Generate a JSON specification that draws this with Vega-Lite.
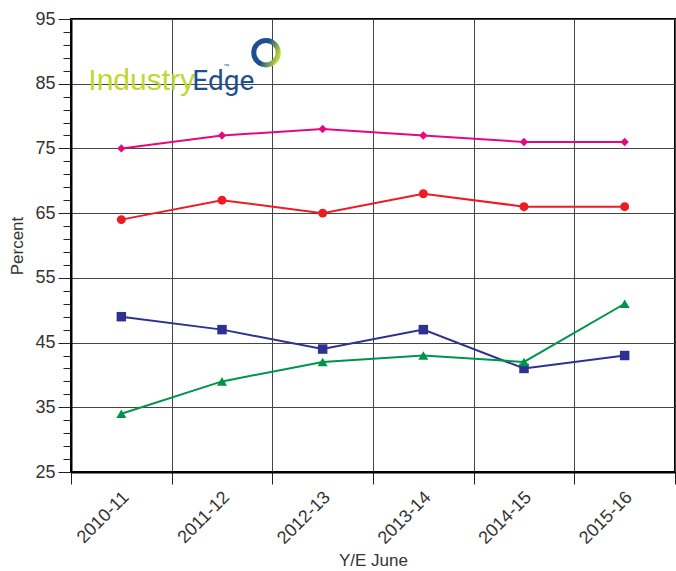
{
  "$schema": "https://vega.github.io/schema/vega-lite/v6.json",
  "width": 604,
  "height": 453,
  "autosize": {"type": "none"},
  "padding": {"left": 71, "top": 19, "right": 1, "bottom": 99},
  "background": "white",
  "config": {
    "view": {"stroke": "black", "strokeWidth": 2},
    "font": "Liberation Sans",
    "axis": {
      "labelFont": "Liberation Sans",
      "titleFont": "Liberation Sans",
      "labelColor": "#333",
      "titleColor": "#333",
      "titleFontWeight": "normal",
      "labelFontSize": 18,
      "titleFontSize": 17,
      "domainColor": "black",
      "domainWidth": 2,
      "tickColor": "#222",
      "gridColor": "#444",
      "gridWidth": 1
    }
  },
  "datasets": {
    "series": [
      {"year": "2010-11", "series": "A", "value": 75},
      {"year": "2011-12", "series": "A", "value": 77},
      {"year": "2012-13", "series": "A", "value": 78},
      {"year": "2013-14", "series": "A", "value": 77},
      {"year": "2014-15", "series": "A", "value": 76},
      {"year": "2015-16", "series": "A", "value": 76},
      {"year": "2010-11", "series": "B", "value": 64},
      {"year": "2011-12", "series": "B", "value": 67},
      {"year": "2012-13", "series": "B", "value": 65},
      {"year": "2013-14", "series": "B", "value": 68},
      {"year": "2014-15", "series": "B", "value": 66},
      {"year": "2015-16", "series": "B", "value": 66},
      {"year": "2010-11", "series": "C", "value": 49},
      {"year": "2011-12", "series": "C", "value": 47},
      {"year": "2012-13", "series": "C", "value": 44},
      {"year": "2013-14", "series": "C", "value": 47},
      {"year": "2014-15", "series": "C", "value": 41},
      {"year": "2015-16", "series": "C", "value": 43},
      {"year": "2010-11", "series": "D", "value": 34},
      {"year": "2011-12", "series": "D", "value": 39},
      {"year": "2012-13", "series": "D", "value": 42},
      {"year": "2013-14", "series": "D", "value": 43},
      {"year": "2014-15", "series": "D", "value": 42},
      {"year": "2015-16", "series": "D", "value": 51}
    ],
    "logo": [
      {"year": "2010-11", "value": 84, "word": "Industry", "part": "a"},
      {"year": "2010-11", "value": 84, "word": "Edge", "part": "b"},
      {"year": "2010-11", "value": 84, "word": "™", "part": "c"}
    ],
    "ring": [
      {"year": "2011-12", "value": 89.8}
    ]
  },
  "encoding": {
    "x": {
      "field": "year",
      "type": "ordinal",
      "scale": {"type": "band", "paddingInner": 0, "paddingOuter": 0},
      "axis": {
        "title": "Y/E June",
        "titlePadding": 5,
        "labelAngle": -45,
        "tickBand": "extent",
        "grid": true,
        "tickSize": 12,
        "labelPadding": 4,
        "labelOffset": -2
      }
    },
    "y": {
      "field": "value",
      "type": "quantitative",
      "scale": {"domain": [25, 95], "nice": false, "zero": false},
      "axis": {
        "title": "Percent",
        "titlePadding": 8,
        "values": [25,27,29,31,33,35,37,39,41,43,45,47,49,51,53,55,57,59,61,63,65,67,69,71,73,75,77,79,81,83,85,87,89,91,93,95],
        "labelExpr": "datum.value % 10 === 5 ? datum.label : ''",
        "tickSize": {"condition": {"test": "datum.value % 10 === 5", "value": 13}, "value": 8},
        "gridOpacity": {"condition": {"test": "datum.value % 10 === 5", "value": 1}, "value": 0},
        "labelPadding": 3
      }
    }
  },
  "layer": [
    {
      "data": {"name": "series"},
      "mark": {"type": "line", "strokeWidth": 2},
      "encoding": {
        "color": {
          "field": "series",
          "type": "nominal",
          "scale": {"domain": ["A", "B", "C", "D"], "range": ["#E5097F", "#ED1C24", "#2E3192", "#00934A"]},
          "legend": null
        }
      }
    },
    {
      "data": {"name": "series"},
      "mark": {"type": "point", "filled": true, "opacity": 1},
      "encoding": {
        "color": {"field": "series", "type": "nominal", "legend": null},
        "shape": {
          "field": "series",
          "type": "nominal",
          "scale": {"domain": ["A", "B", "C", "D"], "range": ["diamond", "circle", "square", "triangle-up"]},
          "legend": null
        },
        "size": {
          "field": "series",
          "type": "nominal",
          "scale": {"domain": ["A", "B", "C", "D"], "range": [70, 100, 120, 90]},
          "legend": null
        }
      }
    },
    {
      "data": {"name": "logo"},
      "transform": [{"filter": "datum.part === 'a'"}],
      "mark": {"type": "text", "align": "left", "baseline": "alphabetic", "fontSize": 30, "color": "#BFD730", "dx": -33},
      "encoding": {
        "text": {"field": "word", "type": "nominal"}
      }
    },
    {
      "data": {"name": "logo"},
      "transform": [{"filter": "datum.part === 'b'"}],
      "mark": {"type": "text", "align": "left", "baseline": "alphabetic", "fontSize": 28, "font": "Roboto", "color": "#1D4F91", "dx": 71},
      "encoding": {
        "text": {"field": "word", "type": "nominal"}
      }
    },
    {
      "data": {"name": "logo"},
      "transform": [{"filter": "datum.part === 'c'"}],
      "mark": {"type": "text", "align": "left", "baseline": "alphabetic", "fontSize": 6, "color": "#1D4F91", "dx": 102, "dy": -22},
      "encoding": {
        "text": {"field": "word", "type": "nominal"}
      }
    },
    {
      "data": {"name": "ring"},
      "mark": {
        "type": "point",
        "shape": "circle",
        "filled": false,
        "size": 600,
        "strokeWidth": 5,
        "opacity": 1,
        "xOffset": 44,
        "stroke": {
          "gradient": "linear",
          "x1": 0, "y1": 0.3, "x2": 1, "y2": 0.7,
          "stops": [
            {"offset": 0, "color": "#1D4F91"},
            {"offset": 0.45, "color": "#1D4F91"},
            {"offset": 1, "color": "#BFD730"}
          ]
        }
      }
    }
  ]
}
